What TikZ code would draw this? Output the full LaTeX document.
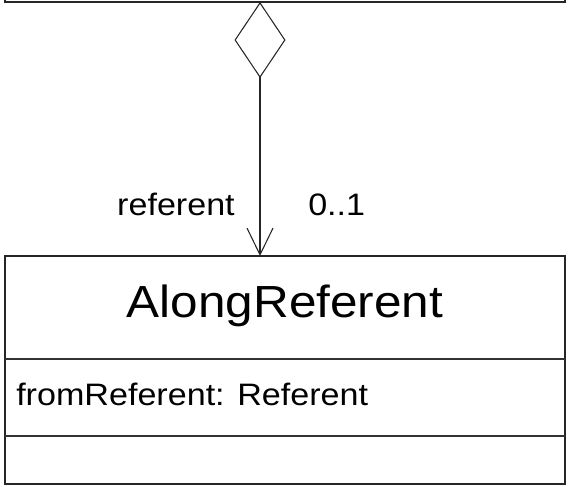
\documentclass[tikz,border=0pt]{standalone}
\usepackage{fontspec}
\setmainfont{Liberation Sans}[FakeStretch=1.1]
\usetikzlibrary{arrows.meta,shapes.geometric,positioning}

\begin{document}
\begin{tikzpicture}[
    x=0.75pt, y=-0.75pt,
    classbox/.style={rectangle, draw=black!85, line width=1.6pt, minimum width=420pt, inner sep=0pt, outer sep=0pt},
    compartment/.style={draw=black!80, line width=1.1pt},
    label/.style={font=\fontsize{23.25}{28}\selectfont, inner sep=0pt},
    title/.style={font=\fontsize{33.75}{40}\selectfont, inner sep=0pt},
    aggregation/.style={draw=black!85, line width=0.8pt,
        {Diamond[open, length=57pt, width=38.25pt]}-{Straight Barb[length=20pt, width=19.5pt]}}
]

\useasboundingbox (0,0) rectangle (568,486);
\clip (0,0) rectangle (568,486);

% owning class, only its lower edge shows
\node[classbox, minimum height=31.5pt] (owner) at (285,-19) {};

% AlongReferent class
\node[classbox, minimum height=171pt] (along) at (285,370) {};
\node[title, anchor=base] (name) at (285,317) {AlongReferent};
\draw[compartment] (5,359) -- (565,359);
\node[label, anchor=base west] (attr) at (16,405) {fromReferent: Referent};
\draw[compartment] (5,436) -- (565,436);

% association with its end labels
\coordinate (joint) at (260,256);
\draw[aggregation] (owner.south -| joint) -- (along.north -| joint);
\node[label, anchor=base east] (role) at (235,215) {referent};
\node[label, anchor=base west] (mult) at (308,215) {0..1};

\end{tikzpicture}
\end{document}
